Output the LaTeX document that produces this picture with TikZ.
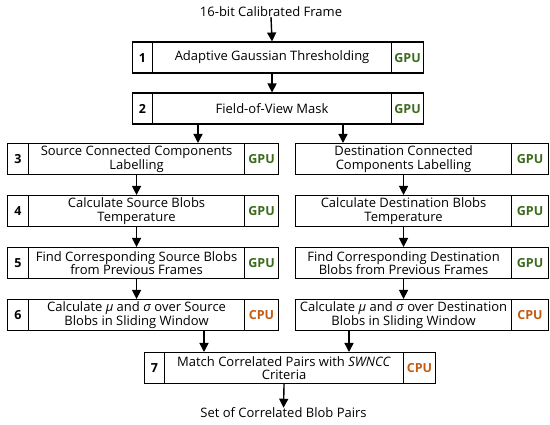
\documentclass[tikz,border=0pt]{standalone}
\usepackage{fontspec}
\setmainfont{Open Sans}
\usetikzlibrary{arrows.meta}
\definecolor{gpu}{HTML}{3B6B1C}
\definecolor{cpu}{HTML}{C55A11}
\begin{document}
\begin{tikzpicture}[x=1pt,y=-1pt,
  cell/.style={draw, line width=1.1pt, inner sep=0pt, anchor=north west, minimum height=31pt, font=\fontsize{13}{13.2}\selectfont, align=center},
  numcell/.style={cell, font=\fontsize{12.5}{12}\selectfont\bfseries},
  gputag/.style={cell, font=\fontsize{12.5}{12}\selectfont\bfseries, text=gpu},
  cputag/.style={cell, font=\fontsize{12.5}{12}\selectfont\bfseries, text=cpu},
  lbl/.style={inner sep=0pt, font=\fontsize{13}{13}\selectfont},
  arr/.style={line width=1.4pt, -{Triangle[length=9pt,width=9pt]}}]
\useasboundingbox (0,0) rectangle (550,425);
% title
\node[lbl] (title) at (271,12) {16-bit Calibrated Frame};
% box 1
\node[numcell, minimum width=20pt] (n1) at (132,41.5) {1};
\node[cell, minimum width=239pt] (m1) at (152,41.5) {Adaptive Gaussian Thresholding};
\node[gputag, minimum width=32pt] (g1) at (391,41.5) {GPU};
% box 2
\node[numcell, minimum width=20pt] (n2) at (132,92.5) {2};
\node[cell, minimum width=239pt] (m2) at (152,92.5) {Field-of-View Mask};
\node[gputag, minimum width=32pt] (g2) at (391,92.5) {GPU};
% left column
\node[numcell, minimum width=21pt] (n3) at (7,143) {3};
\node[cell, minimum width=216pt] (m3) at (28,143) {Source Connected Components\\Labelling};
\node[gputag, minimum width=34pt] (g3) at (244,143) {GPU};
\node[numcell, minimum width=21pt] (n4) at (7,195) {4};
\node[cell, minimum width=216pt] (m4) at (28,195) {Calculate Source Blobs\\Temperature};
\node[gputag, minimum width=34pt] (g4) at (244,195) {GPU};
\node[numcell, minimum width=21pt] (n5) at (7,247) {5};
\node[cell, minimum width=216pt] (m5) at (28,247) {Find Corresponding Source Blobs\\from Previous Frames};
\node[gputag, minimum width=34pt] (g5) at (244,247) {GPU};
\node[numcell, minimum width=21pt] (n6) at (7,299) {6};
\node[cell, minimum width=216pt] (m6) at (28,299) {Calculate \textit{μ} and \textit{σ} over Source\\Blobs in Sliding Window};
\node[cputag, minimum width=34pt] (c6) at (244,299) {CPU};
% right column
\node[cell, minimum width=216pt] (r3) at (295,143) {Destination Connected\\Components Labelling};
\node[gputag, minimum width=37pt] (rg3) at (511,143) {GPU};
\node[cell, minimum width=216pt] (r4) at (295,195) {Calculate Destination Blobs\\Temperature};
\node[gputag, minimum width=37pt] (rg4) at (511,195) {GPU};
\node[cell, minimum width=216pt] (r5) at (295,247) {Find Corresponding Destination\\Blobs from Previous Frames};
\node[gputag, minimum width=37pt] (rg5) at (511,247) {GPU};
\node[cell, minimum width=216pt] (r6) at (295,299) {Calculate \textit{μ} and \textit{σ} over Destination\\Blobs in Sliding Window};
\node[cputag, minimum width=37pt] (rc6) at (511,299) {CPU};
% box 7
\node[numcell, minimum width=20pt] (n7) at (144,352) {7};
\node[cell, minimum width=239pt] (m7) at (164,352) {Match Correlated Pairs with \textit{SWNCC}\\Criteria};
\node[cputag, minimum width=32pt] (c7) at (403,352) {CPU};
% output
\node[lbl] (out) at (283.5,413) {Set of Correlated Blob Pairs};
% split coordinates
\coordinate (sl) at (198,0);
\coordinate (sr) at (343,0);
\coordinate (jl) at (204,0);
\coordinate (jr) at (349,0);
% arrows
\draw[arr] (title.south) -- (m1.north);
\draw[arr] (m1.south) -- (m2.north);
\draw[arr] (m2.south -| sl) -- (m3.north -| sl);
\draw[arr] (m2.south -| sr) -- (r3.north -| sr);
\draw[arr] (m3.south) -- (m4.north);
\draw[arr] (m4.south) -- (m5.north);
\draw[arr] (m5.south) -- (m6.north);
\draw[arr] (r3.south) -- (r4.north);
\draw[arr] (r4.south) -- (r5.north);
\draw[arr] (r5.south) -- (r6.north);
\draw[arr] (m6.south -| jl) -- (m7.north -| jl);
\draw[arr] (r6.south -| jr) -- (m7.north -| jr);
\draw[arr] (m7.south) -- (out.north);
\end{tikzpicture}
\end{document}
